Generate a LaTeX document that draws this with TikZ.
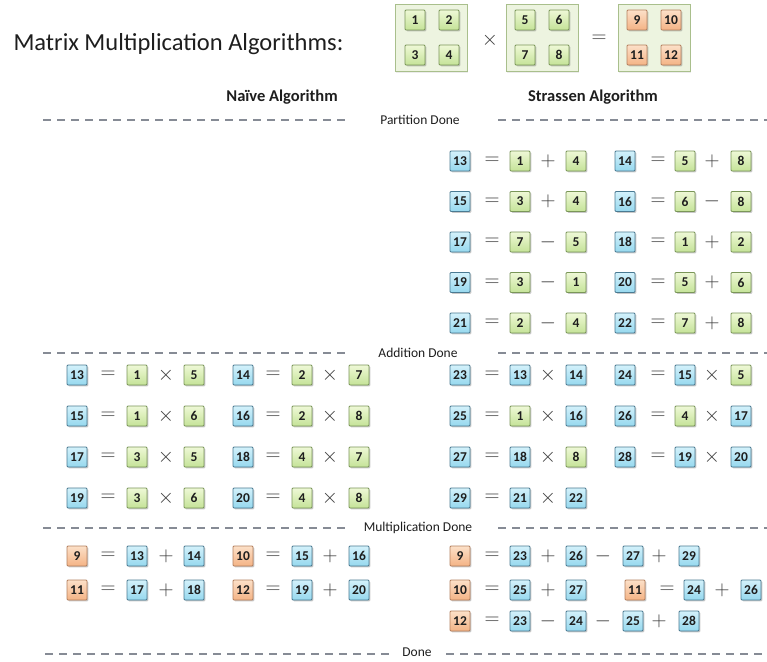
\documentclass[tikz,border=0pt]{standalone}
\usepackage{fontspec}
\setmainfont{Carlito}
\usetikzlibrary{shadows}

\definecolor{bluetop}{HTML}{D3F1FB}
\definecolor{bluebot}{HTML}{96D8EE}
\definecolor{blueline}{HTML}{4A7A92}
\definecolor{greentop}{HTML}{EEF8D6}
\definecolor{greenbot}{HTML}{C5E398}
\definecolor{greenline}{HTML}{7A9658}
\definecolor{orangetop}{HTML}{FCE0C8}
\definecolor{orangebot}{HTML}{F4B385}
\definecolor{orangeline}{HTML}{B5805E}
\definecolor{panelfill}{HTML}{EDF4E0}
\definecolor{panelline}{HTML}{A9BF8C}
\definecolor{sepcol}{HTML}{868B95}
\definecolor{opcol}{HTML}{3A3A3A}
\definecolor{txt}{HTML}{1E1E1E}

% one equation row: prefix, y, list of x/style/text
\newcommand\eqline[3]{%
  \foreach \xx/\kk/\lbl [count=\i] in {#3} {%
    \node[\kk] (#1-\i) at (\xx,#2) {\lbl};}}

\begin{document}
\begin{tikzpicture}[x=1pt,y=-1pt,
  cell/.style={draw, line width=0.75pt, rounded corners=1pt,
    minimum width=20pt, minimum height=20pt, inner sep=0pt,
    font=\fontsize{13.5}{13.5}\selectfont\bfseries, text=txt,
    drop shadow={shadow xshift=1.3pt, shadow yshift=-1.3pt,
      opacity=0.3, fill=black!70}},
  bb/.style={cell, draw=blueline, top color=bluetop, bottom color=bluebot},
  gb/.style={cell, draw=greenline, top color=greentop, bottom color=greenbot},
  ob/.style={cell, draw=orangeline, top color=orangetop, bottom color=orangebot},
  op/.style={inner sep=0pt, text=opcol, font=\fontsize{20}{20}\selectfont},
  panel/.style={draw=panelline, fill=panelfill, line width=0.8pt,
    minimum width=72pt, minimum height=67pt, inner sep=0pt,
    drop shadow={shadow xshift=1pt, shadow yshift=-1pt, opacity=0.15}},
  head/.style={font=\fontsize{16.5}{16.5}\selectfont\bfseries, text=txt},
  stage/.style={inner sep=1pt, font=\fontsize{13.5}{13.5}\selectfont, text=txt},
  sepline/.style={draw=sepcol, line width=2pt, dash pattern=on 8pt off 6pt},
]
\useasboundingbox[fill=white] (0,0) rectangle (767,661);

% title and the product of the two 2x2 matrices
\node[anchor=base west, font=\fontsize{24.5}{24.5}\selectfont, text=txt]
  (title) at (10,51) {Matrix Multiplication Algorithms:};

\node[panel] (ma) at (431,38) {};
\node[panel] (mb) at (542,38) {};
\node[panel] (mc) at (654,38) {};
\node[op] (mx) at (490,40) {$\times$};
\node[op] (meq) at (599,39) {$=$};
\eqline{a}{20}{415/gb/1, 449/gb/2}
\eqline{a2}{55}{415/gb/3, 449/gb/4}
\eqline{b}{20}{525/gb/5, 559/gb/6}
\eqline{b2}{55}{525/gb/7, 559/gb/8}
\eqline{c}{20}{637/ob/9, 671/ob/10}
\eqline{c2}{55}{637/ob/11, 671/ob/12}

% column headings
\node[head] (naive) at (282,97) {Naïve Algorithm};
\node[head] (strassen) at (593,97) {Strassen Algorithm};

% stage separators
\node[stage] (s1) at (420,120) {Partition Done};
\coordinate (s1a) at (43,120);  \coordinate (s1b) at (345,120);
\coordinate (s1c) at (498,120); \coordinate (s1d) at (767,120);
\draw[sepline] (s1a) -- (s1b);
\draw[sepline] (s1c) -- (s1d);

\node[stage] (s2) at (418,353) {Addition Done};
\coordinate (s2a) at (43,353);  \coordinate (s2b) at (345,353);
\coordinate (s2c) at (498,353); \coordinate (s2d) at (767,353);
\draw[sepline] (s2a) -- (s2b);
\draw[sepline] (s2c) -- (s2d);

\node[stage] (s3) at (418,528) {Multiplication Done};
\coordinate (s3a) at (43,528);  \coordinate (s3b) at (345,528);
\coordinate (s3c) at (498,528); \coordinate (s3d) at (767,528);
\draw[sepline] (s3a) -- (s3b);
\draw[sepline] (s3c) -- (s3d);

\node[stage] (s4) at (417,652.5) {Done};
\coordinate (s4a) at (45,654);  \coordinate (s4b) at (389,654);
\coordinate (s4c) at (446,654); \coordinate (s4d) at (767,654);
\draw[sepline] (s4a) -- (s4b);
\draw[sepline] (s4c) -- (s4d);

% Strassen: additions
\eqline{p1}{161}{460/bb/13, 492/op/$=$, 520/gb/1, 548/op/$+$, 576/gb/4,
  625/bb/14, 658/op/$=$, 685/gb/5, 712/op/$+$, 741/gb/8}
\eqline{p2}{201.5}{460/bb/15, 492/op/$=$, 520/gb/3, 548/op/$+$, 576/gb/4,
  625/bb/16, 658/op/$=$, 685/gb/6, 712/op/$-$, 741/gb/8}
\eqline{p3}{242}{460/bb/17, 492/op/$=$, 520/gb/7, 548/op/$-$, 576/gb/5,
  625/bb/18, 658/op/$=$, 685/gb/1, 712/op/$+$, 741/gb/2}
\eqline{p4}{282.5}{460/bb/19, 492/op/$=$, 520/gb/3, 548/op/$-$, 576/gb/1,
  625/bb/20, 658/op/$=$, 685/gb/5, 712/op/$+$, 741/gb/6}
\eqline{p5}{323}{460/bb/21, 492/op/$=$, 520/gb/2, 548/op/$-$, 576/gb/4,
  625/bb/22, 658/op/$=$, 685/gb/7, 712/op/$+$, 741/gb/8}

% naive: products
\eqline{n1}{375}{77/bb/13, 108/op/$=$, 137/gb/1, 166/op/$\times$, 194/gb/5,
  243/bb/14, 273/op/$=$, 302/gb/2, 330/op/$\times$, 359/gb/7}
\eqline{n2}{416}{77/bb/15, 108/op/$=$, 137/gb/1, 166/op/$\times$, 194/gb/6,
  243/bb/16, 273/op/$=$, 302/gb/2, 330/op/$\times$, 359/gb/8}
\eqline{n3}{457}{77/bb/17, 108/op/$=$, 137/gb/3, 166/op/$\times$, 194/gb/5,
  243/bb/18, 273/op/$=$, 302/gb/4, 330/op/$\times$, 359/gb/7}
\eqline{n4}{498}{77/bb/19, 108/op/$=$, 137/gb/3, 166/op/$\times$, 194/gb/6,
  243/bb/20, 273/op/$=$, 302/gb/4, 330/op/$\times$, 359/gb/8}

% Strassen: products
\eqline{q1}{375}{460/bb/23, 492/op/$=$, 520/bb/13, 548/op/$\times$, 576/bb/14,
  625/bb/24, 658/op/$=$, 685/bb/15, 712/op/$\times$, 741/gb/5}
\eqline{q2}{416}{460/bb/25, 492/op/$=$, 520/gb/1, 548/op/$\times$, 576/bb/16,
  625/bb/26, 658/op/$=$, 685/gb/4, 712/op/$\times$, 741/bb/17}
\eqline{q3}{457}{460/bb/27, 492/op/$=$, 520/bb/18, 548/op/$\times$, 576/gb/8,
  625/bb/28, 658/op/$=$, 685/bb/19, 712/op/$\times$, 741/bb/20}
\eqline{q4}{498}{460/bb/29, 492/op/$=$, 520/bb/21, 548/op/$\times$, 576/bb/22}

% naive: final sums
\eqline{r1}{556}{77/ob/9, 108/op/$=$, 137/bb/13, 166/op/$+$, 194/bb/14,
  243/ob/10, 273/op/$=$, 302/bb/15, 330/op/$+$, 359/bb/16}
\eqline{r2}{590}{77/ob/11, 108/op/$=$, 137/bb/17, 166/op/$+$, 194/bb/18,
  243/ob/12, 273/op/$=$, 302/bb/19, 330/op/$+$, 359/bb/20}

% Strassen: final sums
\eqline{t1}{556}{460/ob/9, 492/op/$=$, 520/bb/23, 548/op/$+$, 576/bb/26,
  603/op/$-$, 633/bb/27, 659/op/$+$, 689/bb/29}
\eqline{t2}{590}{460/ob/10, 492/op/$=$, 520/bb/25, 548/op/$+$, 576/bb/27,
  635/ob/11, 667/op/$=$, 694/bb/24, 722/op/$+$, 751/bb/26}
\eqline{t3}{621}{460/ob/12, 492/op/$=$, 520/bb/23, 548/op/$-$, 576/bb/24,
  603/op/$-$, 633/bb/25, 659/op/$+$, 689/bb/28}
\end{tikzpicture}
\end{document}
